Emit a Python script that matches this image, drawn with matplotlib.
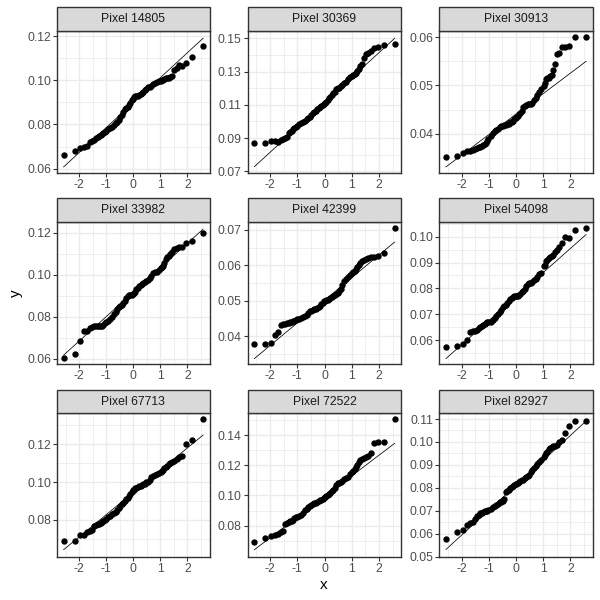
import matplotlib
matplotlib.use("Agg")
import matplotlib.pyplot as plt
from matplotlib.patches import Rectangle

plt.rcParams["font.family"] = ["Liberation Sans", "DejaVu Sans"]
plt.rcParams["axes.unicode_minus"] = False

# Cuantiles teoricos (el centro de la banda esta aligerado, los puntos se solapan)
QUANTILES = [-2.576, -2.170, -1.960, -1.812, -1.695, -1.598, -1.514, -1.440, -1.372, -1.311, -1.254,
             -1.200, -1.150, -1.103, -1.058, -1.015, -0.935, -0.860, -0.789, -0.722, -0.659, -0.598,
             -0.539, -0.482, -0.426, -0.372, -0.319, -0.266, -0.215, -0.164, -0.113, -0.063, -0.013,
             0.013, 0.063, 0.113, 0.164, 0.215, 0.266, 0.319, 0.372, 0.426, 0.482, 0.539, 0.598,
             0.659, 0.722, 0.789, 0.860, 0.935, 1.015, 1.058, 1.103, 1.150, 1.200, 1.254, 1.311,
             1.372, 1.440, 1.514, 1.598, 1.695, 1.812, 1.960, 2.170, 2.576]
LINE_X = [-2.576, 2.576]
X_TICKS = [-2, -1, 0, 1, 2]
X_MINOR = [-2.5, -1.5, -0.5, 0.5, 1.5, 2.5]

PIXEL_14805 = [.0660, .0682, .0692, .0699, .0702, .0722, .0726, .0732, .0741, .0745, .0748,
               .0752, .0755, .0760, .0765, .0770, .0778, .0785, .0790, .0796, .0805, .0812,
               .0820, .0832, .0843, .0858, .0868, .0876, .0880, .0888, .0898, .0910, .0917,
               .0925, .0928, .0930, .0930, .0933, .0938, .0943, .0948, .0956, .0962, .0968, .0970,
               .0975, .0982, .0989, .0992, .0995, .0996, .1000, .1003, .1006, .1008, .1010, .1012,
               .1016, .1017, .1048, .1055, .1068, .1066, .1077, .1107, .1153]
PIXEL_30369 = [.0868, .0868, .0880, .0880, .0878, .0887, .0897, .0900, .0907, .0929, .0937,
               .0945, .0953, .0961, .0965, .0975, .0983, .0989, .0995, .1005, .1015, .1023,
               .1029, .1039, .1049, .1057, .1065, .1073, .1081, .1089, .1093, .1101, .1105,
               .1109, .1117, .1129, .1139, .1149, .1159, .1169, .1179, .1193, .1199, .1203, .1213,
               .1221, .1229, .1240, .1253, .1265, .1273, .1277, .1285, .1293, .1303, .1318, .1336,
               .1346, .1380, .1404, .1414, .1426, .1444, .1450, .1458, .1464]
PIXEL_30913 = [.0351, .0353, .0359, .0364, .0365, .0367, .0369, .0371, .0372, .0372, .0374,
               .0376, .0379, .0381, .0384, .0388, .0395, .0402, .0406, .0408, .0410, .0414,
               .0415, .0415, .0417, .0419, .0421, .0421, .0424, .0425, .0427, .0430, .0433,
               .0435, .0437, .0440, .0443, .0448, .0455, .0457, .0460, .0462, .0462, .0462, .0464,
               .0469, .0475, .0480, .0487, .0492, .0498, .0505, .0513, .0515, .0516, .0519, .0521,
               .0532, .0544, .0565, .0567, .0579, .0580, .0581, .0600, .0600]
PIXEL_33982 = [.0602, .0621, .0683, .0730, .0733, .0746, .0752, .0756, .0756, .0756, .0756,
               .0756, .0757, .0760, .0768, .0773, .0781, .0790, .0800, .0813, .0824, .0835,
               .0844, .0849, .0856, .0863, .0875, .0890, .0898, .0902, .0902, .0905, .0906,
               .0911, .0919, .0930, .0938, .0944, .0951, .0956, .0960, .0965, .0970, .0975, .0983,
               .0994, .1006, .1013, .1014, .1022, .1030, .1035, .1041, .1054, .1073, .1086, .1090,
               .1098, .1110, .1121, .1127, .1132, .1130, .1151, .1159, .1197]
PIXEL_42399 = [.0377, .0377, .0380, .0403, .0411, .0431, .0434, .0436, .0437, .0438, .0440,
               .0441, .0443, .0444, .0446, .0448, .0449, .0452, .0454, .0457, .0461, .0466,
               .0470, .0472, .0474, .0476, .0478, .0481, .0483, .0486, .0490, .0495, .0499,
               .0500, .0502, .0503, .0506, .0509, .0512, .0515, .0517, .0519, .0523, .0527, .0534,
               .0544, .0555, .0563, .0567, .0573, .0578, .0581, .0585, .0590, .0595, .0600, .0608,
               .0613, .0614, .0617, .0620, .0624, .0625, .0627, .0634, .0705]
PIXEL_54098 = [.0572, .0575, .0585, .0601, .0632, .0635, .0636, .0640, .0645, .0649, .0655,
               .0659, .0662, .0666, .0668, .0668, .0670, .0676, .0684, .0693, .0701, .0710,
               .0716, .0726, .0733, .0737, .0742, .0752, .0759, .0764, .0768, .0769, .0770,
               .0770, .0772, .0775, .0779, .0785, .0790, .0799, .0808, .0815, .0819, .0822, .0826,
               .0831, .0837, .0843, .0854, .0859, .0885, .0890, .0907, .0911, .0916, .0923, .0924,
               .0929, .0942, .0950, .0959, .0974, .0997, .0996, .1025, .1032]
PIXEL_67713 = [.0687, .0687, .0722, .0722, .0737, .0744, .0749, .0768, .0774, .0777, .0779,
               .0782, .0788, .0793, .0798, .0805, .0814, .0823, .0833, .0839, .0842, .0853,
               .0863, .0874, .0883, .0892, .0902, .0909, .0918, .0927, .0936, .0946, .0957,
               .0960, .0967, .0969, .0974, .0978, .0980, .0985, .0989, .0992, .0999, .1003, .1011,
               .1029, .1034, .1038, .1043, .1050, .1056, .1061, .1066, .1073, .1078, .1085, .1094,
               .1100, .1107, .1114, .1124, .1135, .1138, .1200, .1223, .1332]
PIXEL_72522 = [.0690, .0716, .0734, .0738, .0747, .0758, .0767, .0809, .0815, .0822, .0829,
               .0833, .0840, .0848, .0855, .0860, .0864, .0868, .0882, .0901, .0910, .0921,
               .0932, .0939, .0943, .0948, .0952, .0959, .0963, .0968, .0972, .0976, .0981,
               .0987, .0994, .1003, .1009, .1018, .1027, .1036, .1047, .1071, .1080, .1085, .1089,
               .1096, .1107, .1118, .1124, .1140, .1153, .1162, .1175, .1188, .1201, .1219, .1237,
               .1243, .1248, .1254, .1261, .1279, .1345, .1351, .1356, .1504]
PIXEL_82927 = [.0576, .0607, .0615, .0636, .0646, .0653, .0665, .0676, .0682, .0688, .0691,
               .0695, .0697, .0698, .0700, .0705, .0708, .0717, .0721, .0724, .0728, .0736,
               .0740, .0744, .0752, .0781, .0787, .0792, .0798, .0804, .0808, .0811, .0816,
               .0818, .0820, .0824, .0829, .0833, .0836, .0842, .0847, .0853, .0858, .0871, .0879,
               .0888, .0895, .0906, .0914, .0923, .0936, .0943, .0950, .0958, .0968, .0975, .0978,
               .0981, .0984, .0985, .0998, .1007, .1038, .1068, .1090, .1090]

TITLES = ["Pixel 14805", "Pixel 30369", "Pixel 30913", "Pixel 33982", "Pixel 42399",
          "Pixel 54098", "Pixel 67713", "Pixel 72522", "Pixel 82927"]
SERIES = [PIXEL_14805, PIXEL_30369, PIXEL_30913, PIXEL_33982, PIXEL_42399,
          PIXEL_54098, PIXEL_67713, PIXEL_72522, PIXEL_82927]
LINE_Y = [[.0608, .1190], [.0728, .1500], [.0331, .0550], [.0617, .1217], [.0337, .0666],
          [.0528, .1008], [.0643, .1249], [.0641, .1345], [.0531, .1091]]
Y_TICKS = [[.06, .08, .10, .12], [.07, .09, .11, .13, .15], [.04, .05, .06],
           [.06, .08, .10, .12], [.04, .05, .06, .07], [.06, .07, .08, .09, .10],
           [.08, .10, .12], [.08, .10, .12, .14], [.05, .06, .07, .08, .09, .10, .11]]
Y_LIMS = [(.05806, .1225), (.0690, .1547), (.03184, .0614), (.05748, .12495), (.03218, .07217),
          (.05071, .10557), (.0606, .13639), (.0595, .15436), (.04995, .1125)]

# Cajas de los paneles en pixeles
W = 600
COLS = [(57, 209.7), (247.7, 401.3), (439.3, 592.7)]
ROWS = [(7, 30.5, 173), (198, 222.3, 364), (390, 413.3, 556.7)]

fig = plt.figure(figsize=(6, 6), dpi=100, facecolor="white")

for i, title in enumerate(TITLES):
    x0, x1 = COLS[i % 3]
    strip_top, top, bottom = ROWS[i // 3]
    ax = fig.add_axes([x0 / W, 1 - bottom / W, (x1 - x0) / W, (bottom - top) / W])

    ticks = Y_TICKS[i]
    step = ticks[1] - ticks[0]
    minor = [t - step / 2 for t in ticks] + [ticks[-1] + step / 2]
    ax.set_xticks(X_TICKS)
    ax.set_xticks(X_MINOR, minor=True)
    ax.set_yticks(ticks)
    ax.set_yticks(minor, minor=True)
    ax.set_yticklabels(["%.2f" % t for t in ticks])
    ax.set_xlim(-2.82, 2.82)
    ax.set_ylim(*Y_LIMS[i])

    ax.grid(True, which="major", color="#EBEBEB", linewidth=1.0)
    ax.grid(True, which="minor", color="#EBEBEB", linewidth=0.55)
    ax.set_axisbelow(True)
    ax.tick_params(which="major", length=2.6, width=0.8, color="#333333",
                   labelcolor="#4D4D4D", labelsize=8.7, pad=1.8)
    ax.tick_params(which="minor", length=0)
    for spine in ax.spines.values():
        spine.set_color("#333333")
        spine.set_linewidth(1.0)

    ax.scatter(QUANTILES, SERIES[i], s=21, color="black", linewidths=0, zorder=3, clip_on=False)
    ax.plot(LINE_X, LINE_Y[i], color="black", linewidth=0.55, zorder=4)

    # Franja del titulo
    fig.add_artist(Rectangle((x0 / W, 1 - top / W), (x1 - x0) / W, (top - strip_top) / W,
                             transform=fig.transFigure, facecolor="#D9D9D9",
                             edgecolor="#333333", linewidth=1.0))
    fig.text((x0 + x1) / 2 / W, 1 - (strip_top + top) / 2 / W, title, ha="center", va="center",
             fontsize=8.8, color="#1A1A1A")

fig.text(324 / W, 1 - 585 / W, "x", ha="center", va="center", fontsize=11, color="black")
fig.text(16 / W, 1 - 293 / W, "y", ha="center", va="center", rotation=90, fontsize=11, color="black")

fig.savefig("out.png", dpi=100)
